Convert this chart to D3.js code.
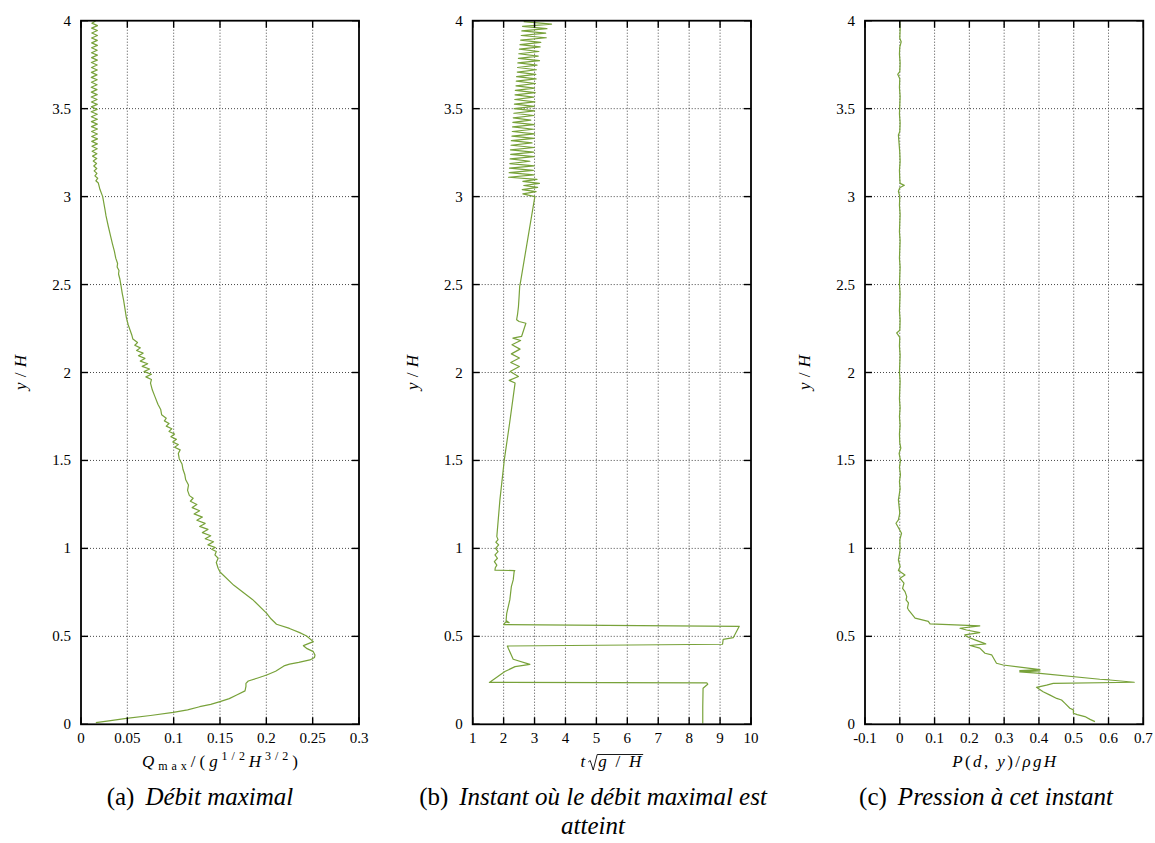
<!DOCTYPE html>
<html><head><meta charset="utf-8">
<script src="https://cdn.jsdelivr.net/npm/d3@7"></script>
<style>
body{margin:0;background:#fff}
svg{display:block}
svg text{font-family:'Liberation Serif','DejaVu Serif','Noto Serif','Tinos','Nimbus Roman','Nimbus Roman No9 L','FreeSerif','Times New Roman',Times,serif;fill:#000}
</style>
</head><body>
<svg id="chart" width="1155" height="843"></svg>
<script>
// ---------- data ----------
const yTicks = [0, 0.5, 1, 1.5, 2, 2.5, 3, 3.5, 4];
const yTickLabels = ["0", "0.5", "1", "1.5", "2", "2.5", "3", "3.5", "4"];

const xTicksA = [0, 0.05, 0.1, 0.15, 0.2, 0.25, 0.3];
const xTickLabelsA = ["0", "0.05", "0.1", "0.15", "0.2", "0.25", "0.3"];
const xTicksB = [1, 2, 3, 4, 5, 6, 7, 8, 9, 10];
const xTickLabelsB = ["1", "2", "3", "4", "5", "6", "7", "8", "9", "10"];
const xTicksC = [-0.1, 0, 0.1, 0.2, 0.3, 0.4, 0.5, 0.6, 0.7];
const xTickLabelsC = ["-0.1", "0", "0.1", "0.2", "0.3", "0.4", "0.5", "0.6", "0.7"];

const captionLetters = ["(a)", "(b)", "(c)"];
const captionTexts = [["Débit maximal"], ["Instant où le débit maximal est", "atteint"], ["Pression à cet instant"]];

// (a) Q_max / (g^1/2 H^3/2) versus y/H : [Q, y]
const debitMax = [
[0.016,0.009],[0.030,0.020],[0.049,0.034],[0.075,0.050],[0.0996,0.068],[0.115,0.082],[0.128,0.100],[0.140,0.113],
[0.150,0.129],[0.160,0.146],[0.168,0.167],[0.177,0.190],[0.178,0.215],[0.178,0.233],[0.1805,0.246],[0.190,0.262],
[0.2004,0.280],[0.210,0.302],[0.216,0.322],[0.219,0.332],[0.225,0.342],[0.235,0.352],[0.247,0.366],[0.252,0.380],
[0.2525,0.394],[0.2507,0.413],[0.244,0.430],[0.240,0.447],[0.2507,0.470],[0.2435,0.502],[0.236,0.521],[0.225,0.545],
[0.211,0.569],[0.205,0.600],[0.2004,0.631],[0.185,0.710],[0.165,0.790],[0.150,0.866],[0.148,0.887],[0.146,0.920],
[0.148,0.944],[0.1445,0.963],[0.146,0.982],[0.141,0.995],[0.145,1.005],[0.137,1.020],[0.143,1.038],[0.134,1.055],
[0.140,1.072],[0.131,1.090],[0.137,1.108],[0.128,1.125],[0.134,1.142],[0.125,1.160],[0.131,1.178],[0.122,1.196],
[0.128,1.214],[0.120,1.232],[0.125,1.250],[0.118,1.268],[0.121,1.285],[0.117,1.300],
[0.115,1.330],[0.116,1.360],[0.113,1.390],[0.112,1.420],[0.110,1.450],[0.109,1.480],[0.106,1.510],[0.105,1.540],
[0.107,1.560],[0.101,1.575],[0.105,1.590],[0.099,1.605],[0.103,1.620],[0.097,1.635],[0.101,1.650],[0.095,1.665],
[0.098,1.680],[0.092,1.695],[0.095,1.710],[0.090,1.725],[0.092,1.740],[0.087,1.760],[0.086,1.790],
[0.083,1.820],[0.080,1.860],[0.077,1.900],[0.075,1.940],
[0.076,1.960],[0.070,1.975],[0.076,1.990],[0.068,2.005],[0.074,2.020],[0.066,2.035],[0.072,2.050],[0.064,2.065],
[0.069,2.080],[0.062,2.095],[0.067,2.110],[0.060,2.125],[0.064,2.140],[0.058,2.155],[0.061,2.170],[0.056,2.190],[0.055,2.210],
[0.053,2.240],[0.051,2.270],[0.049,2.310],[0.0475,2.360],[0.046,2.410],[0.0445,2.450],[0.043,2.500],
[0.042,2.530],[0.0405,2.560],[0.041,2.580],[0.039,2.600],[0.0395,2.620],[0.0375,2.650],[0.036,2.690],[0.034,2.730],
[0.032,2.774],[0.0295,2.830],[0.027,2.890],[0.0259,2.926],[0.0234,3.000],[0.0205,3.040],
[0.0187,3.077],[0.0160,3.090],[0.0180,3.104],[0.0150,3.118],[0.0172,3.132],[0.0142,3.146],[0.0170,3.160],[0.0138,3.174],
[0.0168,3.188],[0.0132,3.202],[0.0170,3.216],[0.0125,3.230],[0.0172,3.244],[0.0120,3.258],[0.0175,3.272],[0.0118,3.286],
[0.0176,3.300],[0.0116,3.314],[0.0178,3.328],[0.0115,3.342],[0.0177,3.356],[0.0114,3.370],[0.0178,3.384],[0.0113,3.398],
[0.0176,3.412],[0.0112,3.426],[0.0177,3.440],[0.0111,3.454],[0.0176,3.468],[0.0110,3.482],[0.0175,3.496],[0.0111,3.510],
[0.0176,3.524],[0.0112,3.538],[0.0174,3.552],[0.0110,3.566],[0.0175,3.580],[0.0111,3.594],[0.0173,3.608],[0.0110,3.622],
[0.0174,3.636],[0.0112,3.650],[0.0175,3.664],[0.0111,3.678],[0.0173,3.692],[0.0112,3.706],[0.0176,3.720],[0.0113,3.734],
[0.0175,3.748],[0.0112,3.762],[0.0176,3.776],[0.0114,3.790],[0.0177,3.804],[0.0113,3.818],[0.0175,3.832],[0.0114,3.846],
[0.0177,3.860],[0.0115,3.874],[0.0176,3.888],[0.0114,3.902],[0.0178,3.916],[0.0116,3.930],[0.0177,3.944],[0.0115,3.958],
[0.0178,3.972],[0.0117,3.986],[0.0160,4.000]
];

// (b) t sqrt(g/H) versus y/H : [t, y]
const instantMax = [
[8.44,0.005],[8.44,0.100],[8.45,0.205],[8.60,0.228],[8.57,0.236],[1.54,0.238],[2.04,0.300],[2.37,0.328],
[2.85,0.341],[2.31,0.370],[2.15,0.432],[2.12,0.445],[9.08,0.455],[9.10,0.483],[9.43,0.493],[9.62,0.557],
[2.00,0.567],[2.07,0.582],[2.18,0.578],[2.08,0.590],[2.10,0.631],[2.20,0.707],[2.25,0.783],[2.31,0.821],
[2.34,0.868],[2.36,0.874],[1.72,0.876],
[1.73,0.890],[1.78,0.905],[1.70,0.925],[1.80,0.944],[1.72,0.963],[1.82,0.982],[1.74,1.000],[1.84,1.020],
[1.75,1.035],[1.82,1.050],[1.78,1.067],[1.88,1.276],[2.02,1.500],[2.20,1.720],[2.37,1.940],
[2.18,1.955],[2.48,1.977],[2.21,2.006],[2.51,2.034],[2.23,2.057],[2.51,2.082],[2.25,2.106],[2.53,2.133],
[2.27,2.158],[2.55,2.182],[2.30,2.195],[2.58,2.205],[2.72,2.280],[2.50,2.290],[2.42,2.300],[2.45,2.330],
[2.48,2.375],[2.50,2.430],[2.52,2.490],[2.55,2.518],[3.01,3.000],
[2.62,3.015],[3.05,3.028],[2.60,3.040],[3.10,3.052],[2.65,3.063],[3.16,3.075],[2.62,3.087],[3.08,3.098],
[2.16,3.110],[2.98,3.123],[2.18,3.136],[2.96,3.149],[2.19,3.162],[2.99,3.175],[2.20,3.188],[2.85,3.201],
[2.21,3.214],[2.98,3.227],[2.23,3.240],[2.97,3.253],[2.22,3.266],[2.99,3.279],[2.24,3.292],[2.92,3.305],
[2.25,3.318],[2.98,3.331],[2.27,3.344],[3.00,3.357],[2.28,3.370],[2.97,3.383],[2.29,3.396],[2.99,3.409],
[2.30,3.422],[2.88,3.435],[2.31,3.448],[2.98,3.461],[2.33,3.474],[3.00,3.487],[2.34,3.500],[2.99,3.513],
[2.35,3.526],[3.01,3.539],[2.36,3.552],[2.97,3.565],[2.37,3.578],[3.02,3.591],[2.38,3.604],[3.00,3.617],
[2.40,3.630],[3.03,3.643],[2.41,3.656],[3.05,3.669],[2.42,3.682],[3.04,3.695],[2.44,3.708],[3.06,3.721],
[2.45,3.734],[3.08,3.747],[2.46,3.760],[3.16,3.773],[2.48,3.786],[3.12,3.799],[2.49,3.812],[3.14,3.825],
[2.51,3.838],[3.18,3.851],[2.53,3.864],[3.20,3.877],[2.55,3.890],[3.38,3.903],[2.57,3.916],[3.36,3.929],
[2.59,3.942],[3.40,3.955],[2.61,3.968],[3.55,3.981],[2.65,3.995]
];

// (c) P(d,y)/rho g H versus y/H : [P, y]
const pression = [
[0.561,0.015],[0.547,0.028],[0.532,0.044],[0.510,0.055],[0.499,0.063],[0.499,0.082],[0.489,0.091],[0.475,0.119],
[0.465,0.138],[0.451,0.147],[0.432,0.166],[0.412,0.185],[0.393,0.210],[0.422,0.223],[0.441,0.233],[0.674,0.239],
[0.604,0.252],[0.575,0.256],[0.403,0.290],[0.345,0.298],[0.403,0.303],[0.345,0.305],[0.403,0.311],[0.297,0.337],
[0.278,0.347],[0.264,0.395],[0.245,0.404],[0.230,0.433],[0.202,0.448],[0.247,0.457],[0.216,0.480],[0.192,0.499],
[0.187,0.508],[0.230,0.521],[0.192,0.536],[0.173,0.546],[0.230,0.560],[0.087,0.571],[0.082,0.585],[0.044,0.604],
[0.025,0.651],[0.022,0.661],[0.025,0.690],[0.018,0.707],[0.020,0.726],[0.015,0.754],[0.008,0.773],[0.012,0.802],
[0.0006,0.830],[0.015,0.849],[-0.004,0.874],[0.001,0.897],[-0.004,0.934],[0.001,0.991],[0.000,1.048],[0.005,1.086],
[-0.011,1.143],[-0.004,1.162],[0.000,1.200],[-0.004,1.276],
[-0.002,1.300],[0.001,1.340],[-0.001,1.380],[0.002,1.420],[-0.001,1.460],[0.002,1.500],[-0.002,1.540],[0.003,1.570],
[0.000,1.600],[-0.001,1.650],[0.001,1.700],[-0.001,1.750],[0.001,1.800],[-0.001,1.850],[0.000,1.900],[0.001,1.950],
[-0.001,2.000],[0.000,2.050],[0.001,2.100],[-0.001,2.150],[0.000,2.200],[-0.009,2.225],[0.000,2.240],[0.001,2.300],
[-0.001,2.350],[0.000,2.400],[0.001,2.450],[-0.001,2.500],[0.000,2.550],[0.001,2.600],[-0.001,2.650],[0.000,2.700],
[0.001,2.750],[-0.001,2.800],[0.000,2.850],[0.001,2.900],[-0.001,2.950],[0.000,3.000],[-0.004,3.030],[0.000,3.050],
[0.013,3.064],[0.001,3.075],[0.000,3.100],[-0.001,3.150],[0.001,3.200],[0.000,3.250],[-0.004,3.350],[0.000,3.370],
[0.001,3.420],[-0.001,3.470],[0.000,3.520],[0.001,3.570],[-0.001,3.620],[0.000,3.670],[-0.006,3.695],[0.000,3.710],
[0.001,3.760],[-0.001,3.810],[0.000,3.850],[0.004,3.880],[0.000,3.900],[0.001,3.950],[0.000,4.000]
];

// ---------- layout ----------
const FONT = "'Liberation Serif','DejaVu Serif','Noto Serif','Tinos','Nimbus Roman','Nimbus Roman No9 L','FreeSerif','Times New Roman',Times,serif";
const svg = d3.select("#chart");
const LINE_COLOR = "#78a23a";
const yScale = d3.scaleLinear().domain([0, 4]).range([724.3, 20.7]);
const plotTop = yScale(4), plotBot = yScale(0);

const panels = [
  {left: 81,    right: 359,    domain: [0, 0.3],   ticks: xTicksA, labels: xTickLabelsA, data: debitMax,   capX: 200},
  {left: 472.7, right: 751,    domain: [1, 10],    ticks: xTicksB, labels: xTickLabelsB, data: instantMax, capX: 593},
  {left: 865,   right: 1143.3, domain: [-0.1, 0.7], ticks: xTicksC, labels: xTickLabelsC, data: pression,  capX: 986}
];

const defs = svg.append("defs");
function txt(sel) { return sel.append("text").style("font-family", FONT); }

panels.forEach((p, i) => {
  const x = d3.scaleLinear().domain(p.domain).range([p.left, p.right]);
  const g = svg.append("g");

  defs.append("clipPath").attr("id", "clip" + i)
    .append("rect").attr("x", p.left).attr("y", plotTop)
    .attr("width", p.right - p.left).attr("height", plotBot - plotTop);

  // grid
  const innerX = p.ticks.slice(1, -1);
  const innerY = yTicks.slice(1, -1);
  g.selectAll(".gx").data(innerX).join("line")
    .attr("x1", d => x(d)).attr("x2", d => x(d))
    .attr("y1", plotTop).attr("y2", plotBot)
    .attr("stroke", "#333").attr("stroke-width", 0.9).attr("stroke-dasharray", "1,2");
  g.selectAll(".gy").data(innerY).join("line")
    .attr("y1", d => yScale(d)).attr("y2", d => yScale(d))
    .attr("x1", p.left).attr("x2", p.right)
    .attr("stroke", "#333").attr("stroke-width", 0.9).attr("stroke-dasharray", "1,2");

  // curve
  const line = d3.line().x(d => x(d[0])).y(d => yScale(d[1]));
  g.append("path").datum(p.data)
    .attr("clip-path", "url(#clip" + i + ")")
    .attr("d", line)
    .attr("fill", "none").attr("stroke", LINE_COLOR)
    .attr("stroke-width", 1.2).attr("stroke-linejoin", "round");

  // ticks (inward, all four sides)
  const TL = 7;
  p.ticks.forEach(t => {
    const xx = x(t);
    g.append("line").attr("x1", xx).attr("x2", xx).attr("y1", plotBot).attr("y2", plotBot - TL)
      .attr("stroke", "#000").attr("stroke-width", 1.4);
    g.append("line").attr("x1", xx).attr("x2", xx).attr("y1", plotTop).attr("y2", plotTop + TL)
      .attr("stroke", "#000").attr("stroke-width", 1.4);
  });
  yTicks.forEach(t => {
    const yy = yScale(t);
    g.append("line").attr("x1", p.left).attr("x2", p.left + TL).attr("y1", yy).attr("y2", yy)
      .attr("stroke", "#000").attr("stroke-width", 1.4);
    g.append("line").attr("x1", p.right).attr("x2", p.right - TL).attr("y1", yy).attr("y2", yy)
      .attr("stroke", "#000").attr("stroke-width", 1.4);
  });

  // border
  g.append("rect").attr("x", p.left).attr("y", plotTop)
    .attr("width", p.right - p.left).attr("height", plotBot - plotTop)
    .attr("fill", "none").attr("stroke", "#000").attr("stroke-width", 1.8);

  // tick labels
  g.selectAll(".xl").data(p.ticks).join("text")
    .style("font-family", FONT)
    .attr("x", d => x(d)).attr("y", 742.5)
    .attr("text-anchor", "middle").attr("font-size", 15)
    .text((d, j) => p.labels[j]);
  g.selectAll(".yl").data(yTicks).join("text")
    .style("font-family", FONT)
    .attr("x", p.left - 10).attr("y", d => yScale(d) + 5)
    .attr("text-anchor", "end").attr("font-size", 15)
    .text((d, j) => yTickLabels[j]);

  // y axis title
  const yt = txt(g)
    .attr("transform", `translate(${p.left - 55},${(plotTop + plotBot) / 2}) rotate(-90)`)
    .attr("text-anchor", "middle").attr("font-size", 17)
    .attr("textLength", 35).attr("lengthAdjust", "spacing");
  yt.append("tspan").attr("font-style", "italic").text("y");
  yt.append("tspan").text("/");
  yt.append("tspan").attr("font-style", "italic").text("H");

  // caption
  const cap = captionTexts[i];
  const ct = txt(g).attr("x", p.capX).attr("y", 805)
    .attr("text-anchor", "middle").attr("font-size", 25);
  ct.append("tspan").text(captionLetters[i]);
  ct.append("tspan").attr("dx", 11).attr("font-style", "italic").text(cap[0]);
  if (cap.length > 1) {
    txt(g).attr("x", p.capX).attr("y", 834)
      .attr("text-anchor", "middle").attr("font-size", 25).attr("font-style", "italic").text(cap[1]);
  }
});

// x axis titles
(function () {
  // (a)
  const cx = (panels[0].left + panels[0].right) / 2;
  const t = txt(svg).attr("x", cx).attr("y", 767).attr("text-anchor", "middle")
    .attr("font-size", 17).attr("textLength", 156).attr("lengthAdjust", "spacing");
  t.append("tspan").attr("font-style", "italic").text("Q");
  t.append("tspan").attr("font-size", 12).attr("dy", 3).text("max");
  t.append("tspan").attr("dy", -3).text("/(");
  t.append("tspan").attr("font-style", "italic").text("g");
  t.append("tspan").attr("font-size", 12).attr("dy", -7).text("1/2");
  t.append("tspan").attr("font-style", "italic").attr("dy", 7).text("H");
  t.append("tspan").attr("font-size", 12).attr("dy", -7).text("3/2");
  t.append("tspan").attr("dy", 7).text(")");

  // (b)  t sqrt(g/H)
  const cxb = (panels[1].left + panels[1].right) / 2;
  const yb = 767;
  const gb = svg.append("g");
  const tt = txt(gb).attr("font-style", "italic").attr("font-size", 17).attr("y", yb).text("t");
  const tw = tt.node().getComputedTextLength();
  const ghW = 45;
  const total = tw + 3 + 9 + 1 + ghW;
  const x0 = cxb - total / 2;
  tt.attr("x", x0);
  const rx = x0 + tw + 3;
  gb.append("path")
    .attr("d", `M${rx},${yb - 5} L${rx + 2},${yb - 6.5} L${rx + 5},${yb + 3} L${rx + 9},${yb - 12.5} L${rx + 10 + ghW},${yb - 12.5}`)
    .attr("fill", "none").attr("stroke", "#000").attr("stroke-width", 0.9);
  const gh = txt(gb).attr("x", rx + 10).attr("y", yb).attr("font-size", 17)
    .attr("textLength", ghW - 2).attr("lengthAdjust", "spacing");
  gh.append("tspan").attr("font-style", "italic").text("g");
  gh.append("tspan").text("/");
  gh.append("tspan").attr("font-style", "italic").text("H");

  // (c)
  const cxc = (panels[2].left + panels[2].right) / 2;
  const tc = txt(svg).attr("x", cxc).attr("y", 767).attr("text-anchor", "middle")
    .attr("font-size", 17).attr("textLength", 104).attr("lengthAdjust", "spacing");
  tc.append("tspan").attr("font-style", "italic").text("P");
  tc.append("tspan").text("(");
  tc.append("tspan").attr("font-style", "italic").text("d");
  tc.append("tspan").text(", ");
  tc.append("tspan").attr("font-style", "italic").text("y");
  tc.append("tspan").text(")/");
  tc.append("tspan").attr("font-style", "italic").text("ρgH");
})();
</script>
</body></html>
